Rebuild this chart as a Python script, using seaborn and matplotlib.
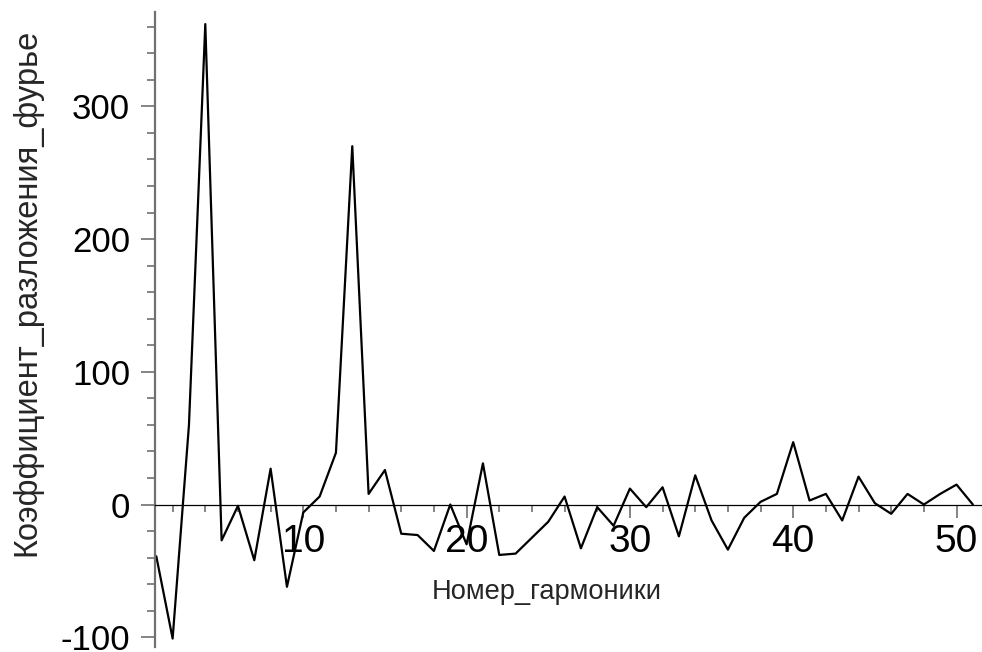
import matplotlib
matplotlib.use("Agg")
import matplotlib.pyplot as plt
import seaborn as sns
import numpy as np
from matplotlib.ticker import MultipleLocator, FixedLocator

# Fourier coefficients (harmonic 1..51)
harmonics = list(range(1, 52))
coeffs = [-39, -101, 60, 362, -27, -1, -42, 27, -62, -6,
          6, 39, 270, 8, 26, -22, -23, -35, 0, -30,
          31, -38, -37, -25, -13, 6, -33, -2, -16, 12,
          -2, 13, -24, 22, -12, -34, -10, 2, 8, 47,
          3, 8, -12, 21, 1, -7, 8, 0, 8, 15, 0]

xlabel = "Номер_гармоники"
ylabel = "Коэффициент_разложения_фурье"
xmajor = [10, 20, 30, 40, 50]
ymajor = [-100, 0, 100, 200, 300]

sns.set_theme(style="white")
plt.rcParams['font.family'] = ['Liberation Sans', 'DejaVu Sans']
plt.rcParams['axes.unicode_minus'] = False

fig = plt.figure(figsize=(9.82, 6.52), dpi=100)
ax = fig.add_axes([0.158, 0.0084, 0.842, 0.973])

sns.lineplot(x=harmonics, y=coeffs, ax=ax, color='black', linewidth=1.6)

ax.set_xlim(0.93, 51.56)
ax.set_ylim(-107, 371)

# Maple style axes: x axis through zero, y axis on the left
for s in ['top', 'right']:
    ax.spines[s].set_visible(False)
ax.spines['bottom'].set_position(('data', 0))
ax.spines['bottom'].set_color('black')
ax.spines['bottom'].set_linewidth(0.9)
ax.spines['left'].set_color('#707070')
ax.spines['left'].set_linewidth(1.6)

ax.xaxis.set_major_locator(FixedLocator(xmajor))
ax.xaxis.set_minor_locator(MultipleLocator(2))
ax.yaxis.set_major_locator(FixedLocator(ymajor))
ax.yaxis.set_minor_locator(MultipleLocator(20))

ax.tick_params(axis='x', which='both', direction='out', bottom=True, colors='#707070',
               labelcolor='black', labelsize=28, pad=5)
ax.tick_params(axis='x', which='major', length=9, width=1.2)
ax.tick_params(axis='x', which='minor', length=5, width=1.2)
ax.tick_params(axis='y', which='both', direction='out', left=True, colors='#707070',
               labelcolor='black', labelsize=25, pad=8)
ax.tick_params(axis='y', which='major', length=10, width=1.2)
ax.tick_params(axis='y', which='minor', length=6, width=1.2)

ax.set_xlabel(xlabel, fontsize=19.6, va='center')
ax.xaxis.set_label_coords(0.473, 0.086)
ax.set_ylabel(ylabel, fontsize=23.5, va='center', ha='center')
ax.yaxis.set_label_coords(-0.155, 0.559)

plt.savefig('out.png', dpi=100)
